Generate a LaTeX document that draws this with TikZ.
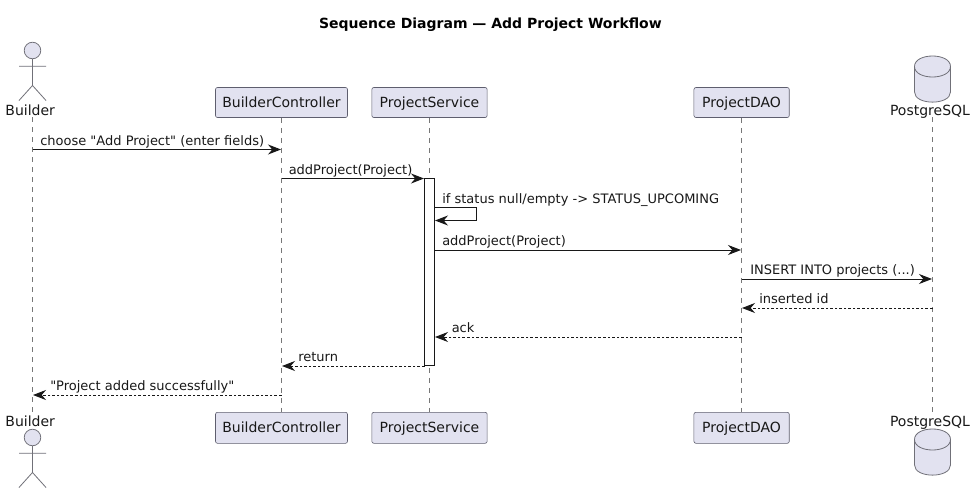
\documentclass[tikz,border=0pt]{standalone}
\usepackage{fontspec}
\setmainfont{DejaVu Sans}[Ligatures=TeXOff]
\usetikzlibrary{arrows.meta}
\definecolor{partfill}{HTML}{E2E2F0}
\definecolor{partline}{HTML}{5E5E6E}
\definecolor{actorline}{HTML}{707078}
\definecolor{lifeline}{HTML}{777777}
\definecolor{inkc}{HTML}{181818}
\tikzset{
  x=0.75pt,y=-0.75pt,
  part/.style={draw=partline,fill=partfill,rounded corners=1.5pt,line width=0.45pt,minimum height=22.5pt,inner sep=0pt,font=\fontsize{10.5}{12}\selectfont,text=inkc,text height=7.7pt,text depth=0.4pt},
  partlow/.style={part,minimum height=23.25pt,text depth=0pt},
  actorlabel/.style={font=\fontsize{10.5}{12}\selectfont,text=inkc,inner sep=0pt,anchor=base},
  shapeline/.style={draw=actorline,line width=0.6pt},
  life/.style={draw=lifeline,line width=0.5pt,dash pattern=on 3.75pt off 3.75pt},
  msg/.style={draw=inkc,line width=0.75pt,-{Stealth[length=9.75pt,width=7.5pt,inset=3.2pt]}},
  retmsg/.style={msg,dash pattern=on 1.9pt off 1.5pt},
  mlabel/.style={font=\fontsize{9.75}{12}\selectfont,text=inkc,inner sep=0pt,anchor=base west},
  actv/.style={draw=inkc,fill=white,line width=0.75pt,inner sep=0pt,minimum width=7.5pt},
}
\begin{document}
\begin{tikzpicture}
\useasboundingbox (0,0) rectangle (976,493);
\fill[white] (0,0) rectangle (976,493);
\node[inner sep=0pt,font=\bfseries\fontsize{10.5}{12}\selectfont,text=black] (title) at (490.4,24.8) {Sequence Diagram — Add Project Workflow};

% participant anchors
\coordinate (bT) at (32.5,117); \coordinate (bB) at (32.5,412);
\node[part,minimum width=99pt] (cT) at (281.5,102.5) {BuilderController};
\node[partlow,minimum width=99pt] (cB) at (281.5,427.8) {BuilderController};
\node[part,minimum width=86.5pt] (sT) at (429.5,102.5) {ProjectService};
\node[partlow,minimum width=86.5pt] (sB) at (429.5,427.8) {ProjectService};
\node[part,minimum width=71.5pt] (dT) at (741.6,102.5) {ProjectDAO};
\node[partlow,minimum width=71.5pt] (dB) at (741.6,427.8) {ProjectDAO};
\coordinate (pT) at (932.5,117); \coordinate (pB) at (932.5,412);

% lifelines
\draw[life] (bT) -- (bB);
\draw[life] (cT) -- (cB);
\draw[life] (sT) -- (sB);
\draw[life] (dT) -- (dB);
\draw[life] (pT) -- (pB);

% actors
\node[actorlabel] (bTl) at (30.2,115) {Builder};
\node[actorlabel] (bBl) at (30.2,426) {Builder};
\foreach \dy in {0,387}{
  \begin{scope}[yshift=-\dy*0.75pt]
  \draw[shapeline,fill=partfill] (32.5,50.5) circle (6.2pt);
  \draw[shapeline] (32.5,58.8) -- (32.5,85.5) (19,66.2) -- (46,66.2)
     (19,100.5) -- (32.5,85.5) -- (46,100.5);
  \end{scope}
}

% databases
\node[actorlabel] (pTl) at (930,115) {PostgreSQL};
\node[actorlabel] (pBl) at (930,426) {PostgreSQL};
\foreach \dy in {0,373}{
  \begin{scope}[yshift=-\dy*0.75pt]
  \draw[shapeline,fill=partfill] (914.5,66.5) .. controls (914.5,52.5) and (950.5,52.5) .. (950.5,66.5)
    -- (950.5,92) .. controls (950.5,105.5) and (914.5,105.5) .. (914.5,92) -- cycle;
  \draw[shapeline] (914.5,66.5) .. controls (914.5,80.5) and (950.5,80.5) .. (950.5,66.5);
  \end{scope}
}

% activation
\node[actv,minimum height=140.6pt] (act) at (429.5,272.2) {};

% message end points
\coordinate (m1a) at (32.5,149.5); \coordinate (m1b) at (281,149.5);
\coordinate (m2a) at (281.5,178.5); \coordinate (m2b) at (424,178.5);
\coordinate (m3a) at (434.5,207.5); \coordinate (m3c) at (476.5,207.5); \coordinate (m3d) at (476.5,220.5); \coordinate (m3b) at (435,220.5);
\coordinate (m4a) at (434.5,250); \coordinate (m4b) at (741,250);
\coordinate (m5a) at (741.5,279); \coordinate (m5b) at (932,279);
\coordinate (m6a) at (932.5,308); \coordinate (m6b) at (742,308);
\coordinate (m7a) at (741.5,337); \coordinate (m7b) at (435,337);
\coordinate (m8a) at (424.5,366); \coordinate (m8b) at (282,366);
\coordinate (m9a) at (281.5,395); \coordinate (m9b) at (33,395);

\draw[msg] (m1a) -- (m1b);
\draw[msg] (m2a) -- (m2b);
\draw[msg] (m3a) -- (m3c) -- (m3d) -- (m3b);
\draw[msg] (m4a) -- (m4b);
\draw[msg] (m5a) -- (m5b);
\draw[retmsg] (m6a) -- (m6b);
\draw[retmsg] (m7a) -- (m7b);
\draw[retmsg] (m8a) -- (m8b);
\draw[retmsg] (m9a) -- (m9b);

% labels
\node[mlabel] (l1) at (40,145.5) {choose "Add Project" (enter fields)};
\node[mlabel] (l2) at (288.5,174.5) {addProject(Project)};
\node[mlabel] (l3) at (442,203.5) {if status null/empty -> STATUS\_UPCOMING};
\node[mlabel] (l4) at (442,245.5) {addProject(Project)};
\node[mlabel] (l5) at (750,274.5) {INSERT INTO projects (...)};
\node[mlabel] (l6) at (759,303.5) {inserted id};
\node[mlabel] (l7) at (451.5,332.5) {ack};
\node[mlabel] (l8) at (298,361.5) {return};
\node[mlabel] (l9) at (50,390.5) {"Project added successfully"};
\end{tikzpicture}
\end{document}
